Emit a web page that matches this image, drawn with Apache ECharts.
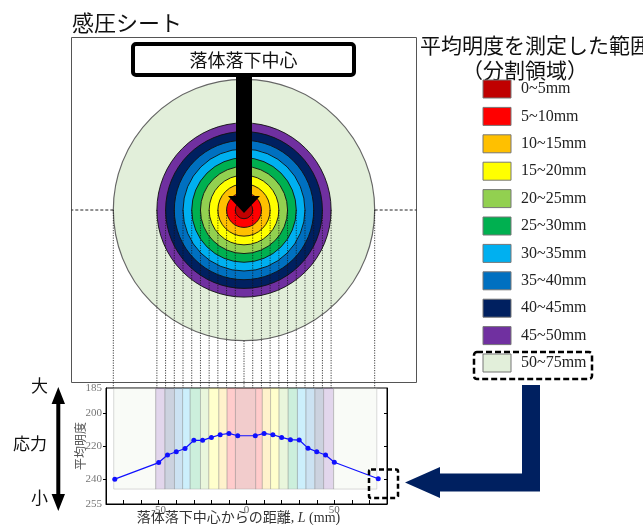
<!DOCTYPE html>
<html>
<head>
<meta charset="utf-8">
<script src="https://cdn.jsdelivr.net/npm/echarts@6/dist/echarts.min.js"></script>
<style>
html,body{margin:0;padding:0;background:#fff;}
#c{width:643px;height:525px;}
</style>
</head>
<body>
<div id="c"></div>
<script>
// 分割領域：外側半径 (mm)、凡例ラベル、塗り色
const ringOuter = [5, 10, 15, 20, 25, 30, 35, 40, 45, 50, 75];
const ringLabels = ['0~5mm','5~10mm','10~15mm','15~20mm','20~25mm','25~30mm','30~35mm','35~40mm','40~45mm','45~50mm','50~75mm'];
const ringColors = ['#c00000','#ff0000','#ffc000','#ffff00','#92d050','#00b050','#00b0f0','#0070c0','#002060','#7030a0','#e2efda'];

// 落体落下中心からの距離 L (mm) と平均明度
const distMm = [-75,-50,-45,-40,-35,-30,-25,-20,-15,-10,-5,5,10,15,20,25,30,35,40,45,50,75];
const brightness = [240,230,225.4,223.5,221.5,216.6,216.6,214.8,213.2,212.4,213.8,213.8,212.4,213.2,214.8,216.2,216.4,221.3,223.5,225.4,229.8,239.8];

// グラフ背景の帯：境界 (mm) と対応する分割領域の番号、明度方向の範囲
const bandEdges = [-75.6,-51.7,-46.5,-41.0,-36.4,-32.1,-26.2,-21.5,-15.8,-11.1,-6.3,5.2,9.0,13.7,18.5,23.7,29.0,33.8,38.9,43.9,49.6,74.2];
const bandRing = [10,9,8,7,6,5,4,3,2,1,0,1,2,3,4,5,6,7,8,9,10];
const bandRange = [185, 246];

// 軸の目盛
const yLabelValues = [185, 200, 220, 240, 255];
const yTickValues = [200, 220, 240];
const xLabelValues = [-50, 0, 50];

const JP = '"Noto Sans CJK JP", "Noto Sans", sans-serif';
const SERIF = '"Liberation Serif", "Noto Sans CJK JP", serif';

function tint(hex, a) {
  const n = parseInt(hex.slice(1), 16);
  return 'rgba(' + ((n >> 16) & 255) + ',' + ((n >> 8) & 255) + ',' + (n & 255) + ',' + a + ')';
}

const chart = echarts.init(document.getElementById('c'), null, { renderer: 'canvas' });

// 凡例（色見本と範囲ラベル）
const legendItems = [];
ringLabels.forEach(function (lab, i) {
  const cy = 89 + i * 27.4;
  legendItems.push({
    type: 'rect', shape: { x: 483, y: cy - 9, width: 28, height: 18 },
    style: { fill: ringColors[i], stroke: '#777', lineWidth: 1 }, z: 10
  });
  legendItems.push({
    type: 'text', x: 521, y: cy,
    style: { text: lab, font: '16px ' + SERIF, fill: '#222', textVerticalAlign: 'middle' }, z: 10
  });
});

const option = {
  animation: false,
  backgroundColor: '#fff',
  grid: [
    { left: 106, top: 388, width: 281, height: 116, show: true, borderColor: '#000', borderWidth: 1, backgroundColor: '#fff', containLabel: false, outerBoundsMode: 'none' },
    { left: 71.5, top: 37.5, width: 345, height: 345, show: true, borderColor: '#555', borderWidth: 1, backgroundColor: '#fff', containLabel: false, outerBoundsMode: 'none' }
  ],
  xAxis: [
    {
      gridIndex: 0, type: 'value', min: -80, max: 80, interval: 10,
      axisLine: { show: true, onZero: false, lineStyle: { color: '#000', width: 1 } },
      axisTick: { show: true, inside: true, length: 4, lineStyle: { color: '#000' } },
      axisLabel: {
        show: true, margin: 1, color: '#666', fontFamily: SERIF, fontSize: 11,
        formatter: function (v) { return xLabelValues.indexOf(v) >= 0 ? String(v) : ''; }
      },
      splitLine: { show: false },
      name: '落体落下中心からの距離, {i|L} (mm)',
      nameLocation: 'middle', nameGap: 7, nameMoveOverlap: false,
      nameTextStyle: {
        fontFamily: SERIF, fontSize: 14, color: '#333', padding: [0, 16, 0, 0],
        rich: { i: { fontFamily: SERIF, fontStyle: 'italic', fontSize: 14, color: '#333' } }
      }
    },
    { gridIndex: 1, type: 'value', min: -99, max: 99, show: false }
  ],
  yAxis: [
    {
      gridIndex: 0, type: 'value', min: 185, max: 255, inverse: true,
      axisLine: { show: true, onZero: false, lineStyle: { color: '#000', width: 1 } },
      axisTick: { show: true, inside: false, length: 3, customValues: yTickValues, lineStyle: { color: '#000' } },
      axisLabel: { show: true, margin: 4, color: '#777', fontFamily: SERIF, fontSize: 11, customValues: yLabelValues },
      splitLine: { show: false },
      name: '平均明度', nameLocation: 'middle', nameGap: 20, nameRotate: 90, nameMoveOverlap: false,
      nameTextStyle: { fontFamily: JP, fontSize: 12, color: '#555' }
    },
    {
      gridIndex: 0, type: 'value', min: 185, max: 255, inverse: true, position: 'right',
      axisLine: { show: true, onZero: false, lineStyle: { color: '#000', width: 1 } },
      axisTick: { show: true, inside: true, length: 3, customValues: yTickValues, lineStyle: { color: '#000' } },
      axisLabel: { show: false },
      splitLine: { show: false }
    },
    { gridIndex: 1, type: 'value', min: -99, max: 99, show: false }
  ],
  series: [
    {
      // 感圧シート上の分割領域（同心円）
      type: 'custom', xAxisIndex: 1, yAxisIndex: 2, clip: false, silent: true, z: 3,
      data: ringOuter.map(function (r, i) { return [r, i]; }).reverse(),
      renderItem: function (params, api) {
        const r = api.value(0), i = api.value(1);
        const c = api.coord([0, 0]);
        const rr = api.size([r, 0])[0];
        const outer = i === ringOuter.length - 1;
        return {
          type: 'circle', shape: { cx: c[0], cy: c[1], r: rr },
          style: { fill: ringColors[i], stroke: outer ? '#666' : '#111', lineWidth: outer ? 1.2 : 0.9 }
        };
      }
    },
    {
      // 横方向の破線（シート端から外周円まで）
      type: 'custom', xAxisIndex: 1, yAxisIndex: 2, clip: false, silent: true, z: 4,
      data: [[-1], [1]],
      renderItem: function (params, api) {
        const s = api.value(0);
        const rMax = ringOuter[ringOuter.length - 1];
        const a = api.coord([s * rMax, 0]);
        const b = api.coord([s * 99, 0]);
        return {
          type: 'line', shape: { x1: a[0], y1: a[1], x2: b[0], y2: b[1] },
          style: { stroke: '#222', lineWidth: 1, lineDash: [3, 2] }
        };
      }
    },
    {
      // 各境界からグラフへ下ろす点線
      type: 'custom', xAxisIndex: 1, yAxisIndex: 2, clip: false, silent: true, z: 5,
      data: ringOuter.slice().reverse().map(function (v) { return [-v]; }).concat([[0]], ringOuter.map(function (v) { return [v]; })),
      renderItem: function (params, api) {
        const x = api.value(0);
        const y0 = x === 0 ? -ringOuter[ringOuter.length - 1] : 0;
        const a = api.coord([x, y0]);
        const yb = params.coordSys.y + params.coordSys.height + 5.5;
        return {
          type: 'line', shape: { x1: a[0], y1: a[1], x2: a[0], y2: yb },
          style: { stroke: '#111', lineWidth: 0.8, lineDash: [1.2, 1.3] }
        };
      }
    },
    {
      // グラフ背景の帯（分割領域ごとの範囲）
      type: 'custom', xAxisIndex: 0, yAxisIndex: 0, silent: true, z: 2,
      data: bandRing.map(function (r, i) { return [bandEdges[i], bandEdges[i + 1], r]; }),
      renderItem: function (params, api) {
        const r = api.value(2);
        const p0 = api.coord([api.value(0), bandRange[0]]);
        const p1 = api.coord([api.value(1), bandRange[1]]);
        return {
          type: 'rect',
          shape: { x: p0[0], y: p0[1], width: p1[0] - p0[0], height: p1[1] - p0[1] },
          style: { fill: tint(ringColors[r], r === 10 ? 0.22 : 0.2), stroke: 'rgba(150,150,150,0.45)', lineWidth: 0.8 }
        };
      }
    },
    {
      // 平均明度の分布
      type: 'line', xAxisIndex: 0, yAxisIndex: 0, z: 6,
      data: distMm.map(function (x, i) { return [x, brightness[i]]; }),
      symbol: 'circle', symbolSize: 5, showSymbol: true,
      lineStyle: { color: '#1010ff', width: 1.2 },
      itemStyle: { color: '#1010ff' }
    }
  ],
  graphic: [
    { type: 'text', x: 72, y: 23, style: { text: '感圧シート', font: '22px ' + JP, fill: '#111', textVerticalAlign: 'middle' }, z: 10 },
    // 落体落下中心の表示
    { type: 'rect', shape: { x: 133, y: 44, width: 221, height: 31, r: 3 }, style: { fill: '#fff', stroke: '#000', lineWidth: 4 }, z: 10 },
    { type: 'text', x: 243.5, y: 60, style: { text: '落体落下中心', font: '18px ' + JP, fill: '#111', textAlign: 'center', textVerticalAlign: 'middle' }, z: 11 },
    { type: 'polygon', shape: { points: [[236, 77], [252, 77], [252, 196], [260, 196], [244, 213], [228, 196], [236, 196]] }, style: { fill: '#000' }, z: 10 },
    // 凡例タイトル
    { type: 'text', x: 420, y: 45, style: { text: '平均明度を測定した範囲', font: '21px ' + JP, fill: '#111', textVerticalAlign: 'middle' }, z: 10 },
    { type: 'text', x: 525, y: 70, style: { text: '（分割領域）', font: '21px ' + JP, fill: '#111', textAlign: 'center', textVerticalAlign: 'middle' }, z: 10 },
    // 50~75mm を囲む破線枠と矢印
    { type: 'rect', shape: { x: 474, y: 352, width: 118, height: 27, r: 3 }, style: { fill: 'none', stroke: '#000', lineWidth: 2.5, lineDash: [6, 3] }, z: 10 },
    { type: 'polygon', shape: { points: [[522, 385], [540, 385], [540, 491.5], [440, 491.5], [440, 498], [405, 482.5], [440, 467], [440, 473.5], [522, 473.5]] }, style: { fill: '#002060' }, z: 10 },
    { type: 'rect', shape: { x: 369, y: 469.5, width: 29, height: 28.5, r: 2 }, style: { fill: 'none', stroke: '#000', lineWidth: 2.5, lineDash: [5, 3] }, z: 10 },
    // 応力の大小
    { type: 'polygon', shape: { points: [[58.3, 387], [65, 404], [60.3, 404], [60.3, 494], [65, 494], [58.3, 511], [51.6, 494], [56.3, 494], [56.3, 404], [51.6, 404]] }, style: { fill: '#000' }, z: 10 },
    { type: 'text', x: 39.5, y: 386, style: { text: '大', font: '17px ' + JP, fill: '#111', textAlign: 'center', textVerticalAlign: 'middle' }, z: 10 },
    { type: 'text', x: 30, y: 444, style: { text: '応力', font: '17px ' + JP, fill: '#111', textAlign: 'center', textVerticalAlign: 'middle' }, z: 10 },
    { type: 'text', x: 39.5, y: 498, style: { text: '小', font: '17px ' + JP, fill: '#111', textAlign: 'center', textVerticalAlign: 'middle' }, z: 10 }
  ].concat(legendItems)
};

chart.setOption(option);
</script>
</body>
</html>
